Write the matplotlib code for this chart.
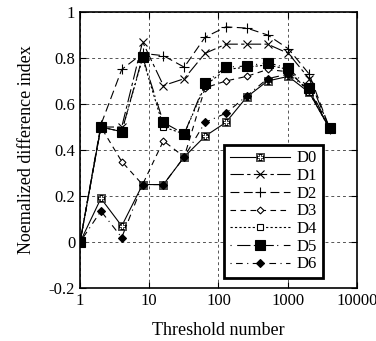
import matplotlib
matplotlib.use("Agg")
import matplotlib.pyplot as plt

plt.rcParams['font.family'] = ['Liberation Serif', 'DejaVu Serif']

## data
thresholds = [1, 2, 4, 8, 16, 32, 64, 128, 256, 512, 1024, 2048, 4096]
D0 = [0, 0.19, 0.07, 0.25, 0.25, 0.37, 0.46, 0.52, 0.63, 0.70, 0.72, 0.65, 0.49]
D1 = [0, 0.50, 0.50, 0.87, 0.68, 0.71, 0.82, 0.86, 0.86, 0.86, 0.82, 0.71, 0.49]
D2 = [0, 0.51, 0.75, 0.82, 0.81, 0.76, 0.89, 0.935, 0.93, 0.90, 0.84, 0.73, 0.49]
D3 = [0, 0.50, 0.35, 0.25, 0.44, 0.37, 0.67, 0.70, 0.72, 0.75, 0.74, 0.66, 0.49]
D4 = [0, 0.50, 0.48, 0.80, 0.50, 0.47, 0.68, 0.75, 0.76, 0.77, 0.75, 0.65, 0.49]
D5 = [0, 0.50, 0.48, 0.805, 0.52, 0.47, 0.69, 0.76, 0.765, 0.78, 0.755, 0.67, 0.495]
D6 = [0, 0.135, 0.02, 0.25, 0.25, 0.37, 0.52, 0.56, 0.635, 0.71, 0.73, 0.66, 0.49]

series = {"D0": D0, "D1": D1, "D2": D2, "D3": D3, "D4": D4, "D5": D5, "D6": D6}
styles = {
    "D0": dict(ls="-", marker=r"$\boxplus$", ms=6, mew=0.5, mfc="white"),
    "D1": dict(ls=(0, (12, 3, 3, 3)), marker="x", ms=6),
    "D2": dict(ls=(0, (8, 4)), marker="+", ms=7),
    "D3": dict(ls=(0, (5, 4)), marker="D", ms=3.5, mfc="white"),
    "D4": dict(ls=(0, (2, 2)), marker="s", ms=5, mfc="white"),
    "D5": dict(ls=(0, (1, 5, 12, 3)), marker="s", ms=7, mfc="black"),
    "D6": dict(ls=(0, (1, 4, 6, 4)), marker="D", ms=4, mfc="black"),
}

fig = plt.figure(figsize=(3.76, 3.41), dpi=100)
ax = fig.add_axes([0.213, 0.155, 0.736, 0.81])

for name, vals in series.items():
    st = dict(mew=0.8)
    st.update(styles[name])
    ax.plot(thresholds, vals, color="black", lw=0.8, mec="black",
            label=name, **st)

ax.set_xscale("log")
ax.set_xlim(1, 10000)
ax.set_ylim(-0.2, 1)
ax.set_xticks([1, 10, 100, 1000, 10000])
ax.set_xticklabels(["1", "10", "100", "1000", "10000"])
ax.set_yticks([-0.2, 0, 0.2, 0.4, 0.6, 0.8, 1])
ax.set_yticklabels(["-0.2", "0", "0.2", "0.4", "0.6", "0.8", "1"])
ax.minorticks_off()
ax.tick_params(direction="in", top=True, right=True, labelsize=12, length=4)
ax.grid(True, ls=(0, (3, 3)), color="#555555", lw=0.7)
for s in ax.spines.values():
    s.set_linewidth(1.2)

ax.set_xlabel("Threshold number", fontsize=13, labelpad=9)
ax.set_ylabel("Noemalized difference index", fontsize=13, labelpad=10)

leg = ax.legend(loc="lower right", bbox_to_anchor=(0.877, 0.036), borderaxespad=0,
                fontsize=12, handlelength=3.6, fancybox=False, framealpha=1,
                edgecolor="black", borderpad=0.35, labelspacing=0.1, handletextpad=0.4)
leg.get_frame().set_linewidth(2)

fig.savefig("out.png", dpi=100)
